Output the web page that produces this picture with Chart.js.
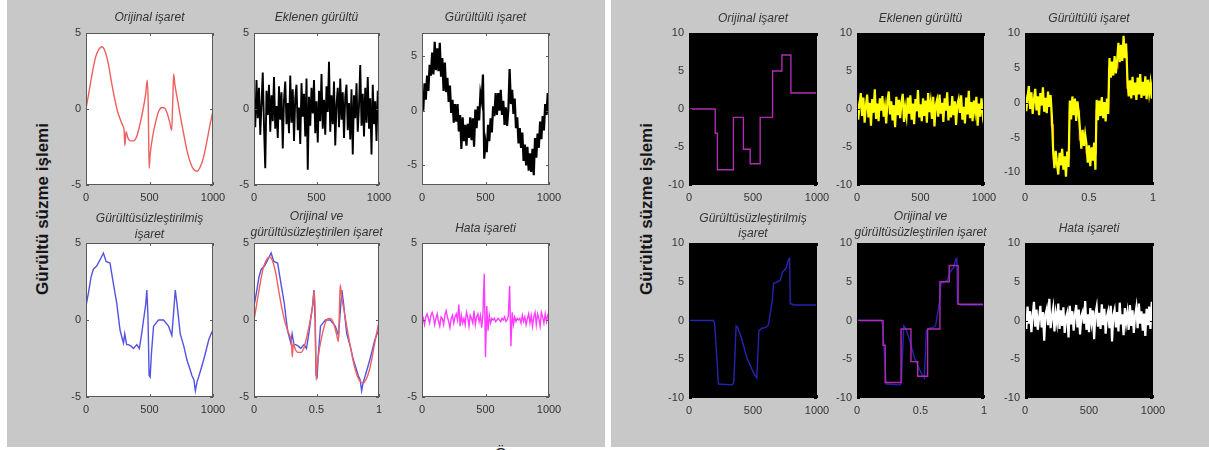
<!DOCTYPE html>
<html><head><meta charset="utf-8">
<script src="https://cdn.jsdelivr.net/npm/chart.js@4.4.1/dist/chart.umd.min.js"></script>
<style>
html,body{margin:0;padding:0;background:#fff;width:1209px;height:450px;overflow:hidden;position:relative;font-family:"Liberation Sans",Arial,sans-serif;}
.panel{position:absolute;background:#c8c8c8;}
canvas{position:absolute;}
.ylab{position:absolute;font-size:17px;font-weight:bold;color:#151515;white-space:nowrap;transform:translate(-50%,-50%) rotate(-90deg);}
</style></head><body>
<div class="panel" style="left:7px;top:0;width:598px;height:447px"></div>
<div class="panel" style="left:611px;top:0;width:598px;height:447px"></div>
<div class="ylab" style="left:43px;top:209px">Gürültü süzme işlemi</div>
<div class="ylab" style="left:647px;top:209px">Gürültü süzme işlemi</div>
<div style="position:absolute;left:495px;top:444px;font-size:15px;color:#222">Ö</div>
<script>
// ---------- tick labels ----------
const xTicksSamples = [0, 500, 1000];
const xLabelsSamples = ['0', '500', '1000'];
const xLabelsUnit = ['0', '0.5', '1'];
const yTicksLeft = [-5, 0, 5];
const yLabelsLeft = ['-5', '0', '5'];
const yTicksRight = [-10, -5, 0, 5, 10];
const yLabelsRight = ['-10', '-5', '0', '5', '10'];

// ---------- titles ----------
const titleOrig = ['Orijinal işaret'];
const titleNoise = ['Eklenen gürültü'];
const titleNoisy = ['Gürültülü işaret'];
const titleDen = ['Gürültüsüzleştirilmiş', 'işaret'];
const titleBoth = ['Orijinal ve', 'gürültüsüzleştirilen işaret'];
const titleErr = ['Hata işareti'];

// ---------- left panel: smooth signal ----------
const origX = [0,25,50,75,100,125,150,175,200,225,250,275,290,300,306,315,330,350,375,400,425,450,470,482,490,497,505,525,550,575,600,620,640,660,675,683,690,700,725,750,775,800,825,850,875,900,925,950,975,1000];
const origY = [0,1.2,2.4,3.4,3.9,4.1,3.8,3.0,1.8,0.7,-0.2,-0.8,-1.1,-1.4,-2.4,-1.5,-1.9,-2.1,-2.1,-1.8,-1.0,0.0,1.0,1.9,0.3,-3.9,-3.0,-1.8,-0.8,-0.1,0.1,0.05,-0.3,-0.9,-1.4,0.5,2.3,1.6,0.4,-0.8,-1.9,-2.9,-3.6,-4.0,-4.1,-3.8,-3.2,-2.2,-1.1,-0.1];

const denLX = [0,20,40,58,84,110,137,158,189,215,242,268,285,295,305,320,334,355,374,400,420,440,453,470,479,488,497,505,515,532,571,610,650,676,690,703,716,742,770,795,815,834,850,861,875,887,905,926,945,966,985,1000];
const denLY = [0.9,1.8,2.8,3.3,3.5,3.9,4.35,3.8,3.7,2.4,1.1,-0.65,-1.2,-1.5,-0.9,-1.6,-1.6,-1.7,-1.85,-1.6,-1.85,-0.8,0.0,1.0,1.95,0.2,-3.6,-3.7,-2.2,-0.4,0.0,0.0,-0.4,-1.0,0.5,1.95,1.1,-0.9,-1.7,-2.6,-3.1,-3.6,-3.9,-4.6,-4.0,-3.7,-3.2,-2.6,-2.0,-1.3,-0.9,-0.65];

const noiseL = [0.8,-1.2,1.9,-0.6,1.4,-1.7,0.3,2.4,-1.1,-3.9,
1.2,-0.4,1.6,-1.5,0.9,-0.8,2.1,-1.3,0.2,-1.9,
1.5,-0.7,1.1,-2.6,0.6,1.8,-1.0,0.4,-1.6,2.2,
-0.9,1.3,-2.1,0.7,1.6,-1.4,0.1,-2.3,1.7,-0.5,
1.0,-1.8,2.0,-4.0,0.8,-1.1,1.4,-0.3,1.9,-1.6,
0.5,-2.2,1.2,-0.8,2.3,-1.3,0.6,-1.7,1.5,-0.2,
3.1,-1.5,0.9,-1.0,1.8,-2.4,0.3,1.4,-1.2,2.0,
-0.7,1.1,-1.9,0.8,1.6,-1.4,0.4,-2.0,1.3,-3.0,
0.9,-0.6,1.7,-1.5,0.2,2.9,-1.1,1.0,-1.8,1.4,
-0.9,2.1,-1.3,0.7,-3.0,1.6,-1.0,0.5,-2.1,1.2,0.3];

const noisyL = [1.2,0.0,2.5,1.0,3.2,1.8,4.2,3.2,5.3,3.3,
6.3,3.7,5.7,3.6,6.2,3.1,4.8,1.8,4.4,1.7,
3.0,0.8,2.3,-0.2,1.0,-1.1,0.6,-1.0,0.6,-1.9,
-0.4,-3.5,-0.6,-2.8,-1.3,-3.2,-1.2,-2.5,-0.6,-2.7,
-0.7,-3.3,0.1,-1.6,0.4,-0.9,1.6,0.9,3.3,-4.4,
-2.9,-3.8,-1.3,-2.8,-0.7,-2.0,0.4,-0.5,1.6,-0.4,
1.6,0.0,1.9,-0.4,0.9,-1.3,0.3,-1.4,0.1,3.8,
0.6,1.9,-0.3,1.1,-1.6,-0.6,-3.0,-1.6,-3.4,-2.0,
-4.6,-3.1,-5.0,-3.3,-5.5,-3.9,-5.6,-3.5,-5.9,-2.5,
-4.3,-2.1,-3.4,-1.0,-2.6,-0.5,-1.8,0.6,-0.4,1.6,-0.4];

const errL = [-0.2,0.1,-0.3,0.2,0.4,0.1,-0.2,0.3,0.5,0.2,
-0.3,0.1,0.4,-0.1,-0.4,0.2,0.1,-0.3,0.3,0.6,
0.2,-0.1,-0.5,0.1,0.3,-0.2,0.2,0.4,0.0,1.0,
-0.4,0.3,-0.2,0.1,-0.3,0.5,0.2,-0.4,0.3,0.1,
-0.2,0.6,-0.3,0.2,0.4,-0.1,0.3,-0.5,0.4,3.0,
-2.4,0.9,-0.7,0.3,-0.2,0.1,0.0,0.1,-0.1,0.0,
0.1,0.0,-0.1,0.1,0.0,0.2,-0.1,0.0,0.3,2.2,
-1.7,0.5,-0.3,0.2,-0.1,0.1,0.0,0.1,-0.2,0.3,
-0.1,0.2,-0.3,0.1,0.4,-0.2,0.3,-0.4,0.2,0.5,
-0.3,0.4,0.1,-0.4,0.5,0.2,-0.2,0.4,-0.1,0.3,0.1];

// ---------- right panel: block signal ----------
const stepX = [0,205,222,347,425,478,556,653,726,796,1000];
const stepY = [0,-3.2,-8,-1.1,-5.3,-7.2,-1.1,5.0,7.1,2.1,2.1];

const denRX = [0,190,200,230,340,350,368,380,410,452,500,517,530,546,570,600,620,650,661,680,713,730,760,778,786,791,820,1000];
const denRY = [0,0,-0.3,-8.2,-8.3,-7.9,-0.7,-0.9,-2.3,-4.8,-6.6,-7.1,-7.4,-1.3,-1.0,-0.9,-0.6,2.5,4.8,4.9,5.2,6.2,6.8,7.9,8.0,2.2,2.0,2.0];

const noiseR = [1.2,-1.4,0.6,2.1,-0.9,1.5,-1.8,0.4,1.9,-1.1,
0.8,-2.2,1.3,-0.5,2.6,-1.3,0.7,-1.6,1.4,-0.2,
1.7,-1.0,0.3,-1.9,1.1,2.3,-0.7,1.0,-1.5,0.5,
-2.4,1.6,-0.8,1.2,-1.2,0.9,2.0,-1.7,0.2,-1.0,
1.5,-0.6,1.8,-1.4,0.7,-2.0,1.3,-0.3,2.5,-1.1,
0.6,-1.6,1.4,-0.9,1.1,-1.8,2.1,-0.4,0.9,-1.3,
1.6,-2.3,0.5,1.2,-1.0,1.9,-0.6,0.8,-1.7,1.4,
-0.2,2.2,-1.5,0.4,-1.1,1.7,-0.8,1.0,-2.1,0.6,
1.3,-0.5,1.8,-1.4,0.3,-1.9,1.5,-0.7,2.4,-1.2,
0.9,-1.6,1.1,-0.3,1.6,-2.2,0.7,-1.0,1.4,-0.6,0.8];

const noisyR = [1.3,-1.2,0.8,2.4,-0.9,1.5,-1.6,0.5,2.0,-1.1,
0.9,-1.8,1.4,-0.4,2.2,-1.3,0.7,-1.5,1.6,-0.6,1.1,
-2.0,-7.0,
-9.4,-6.9,-8.8,-10.3,-7.2,-9.0,-6.6,-9.6,-7.7,-10.6,-7.0,-9.2,
0.3,-2.4,0.9,-1.8,0.6,-2.6,0.2,-1.5,
-4.0,-6.6,-3.9,-6.2,-4.5,
-5.9,-8.6,-6.1,-9.1,-6.4,-8.3,-5.7,-9.6,
0.4,-2.5,0.3,-1.9,0.8,-2.2,0.1,-2.7,0.6,-1.6,
6.4,3.6,5.9,3.9,6.7,4.2,6.1,
8.6,5.8,8.3,6.0,9.6,6.4,8.5,
3.5,0.9,3.2,0.6,3.7,1.1,2.9,0.4,3.6,1.2,4.1,0.7,3.0,1.0,3.8,0.5,3.3,1.3,2.8,0.6,3.4];

const errR = [0.9,-1.1,1.8,-0.4,1.2,-1.5,0.6,2.4,-0.8,1.4,
-1.2,0.3,1.9,-0.9,1.1,-2.6,0.8,1.5,-0.6,2.8,
-1.0,0.5,1.6,-1.4,0.9,-0.3,2.2,-1.1,1.3,-0.7,
1.7,-1.6,0.4,1.0,-2.2,1.9,-0.5,1.2,-1.3,0.7,
2.0,-0.9,1.4,-1.8,0.6,1.1,-0.4,2.5,-1.2,0.8,
-1.5,1.6,-0.2,1.3,-2.4,0.9,1.8,-0.8,1.0,-1.1,
2.1,-0.6,1.5,-1.7,0.5,1.2,-1.0,1.9,-2.7,0.7,
1.4,-0.9,1.1,-1.4,2.3,-0.5,0.8,-1.9,1.6,-0.3,
1.0,-1.2,2.0,-0.7,1.3,-1.6,0.6,1.7,-1.0,2.2,
-0.4,1.2,-1.3,0.9,-2.0,1.5,-0.6,1.8,-1.1,2.4,0.2];

// sample positions of the 101-sample series (n = 0, 10, ..., 1000)
const samplePos = noiseL.map((_, i) => i * 10);

// ---------- helpers ----------
const FF = "'Liberation Sans', Arial, sans-serif";
function pts(xs, ys) { return ys.map((y, i) => ({ x: xs[i], y: y })); }

function plot(o) {
  const AX = 36, TOP = 42, RP = 20, BX = 22;
  const w = o.r - o.l, h = o.b - o.t;
  const c = document.createElement('canvas');
  c.width = w + AX + RP; c.height = h + TOP + BX;
  c.style.left = (o.l - AX) + 'px'; c.style.top = (o.t - TOP) + 'px';
  c.style.width = c.width + 'px'; c.style.height = c.height + 'px';
  document.body.appendChild(c);
  const framePlugin = {
    id: 'frame',
    beforeDraw(ch) {
      const a = ch.chartArea, x = ch.ctx;
      x.save(); x.fillStyle = o.bg; x.fillRect(a.left, a.top, a.right - a.left, a.bottom - a.top); x.restore();
    },
    afterDraw(ch) {
      const a = ch.chartArea, x = ch.ctx;
      x.save();
      x.strokeStyle = o.frame; x.lineWidth = 1;
      x.strokeRect(a.left + 0.5, a.top + 0.5, a.right - a.left - 1, a.bottom - a.top - 1);
      x.beginPath();
      o.xt.forEach(v => {
        const px = Math.round(ch.scales.x.getPixelForValue(v)) + 0.5;
        x.moveTo(px, a.bottom); x.lineTo(px, a.bottom - 3);
        x.moveTo(px, a.top); x.lineTo(px, a.top + 3);
      });
      o.yt.forEach(v => {
        const py = Math.round(ch.scales.y.getPixelForValue(v)) + 0.5;
        x.moveTo(a.left, py); x.lineTo(a.left + 3, py);
        x.moveTo(a.right, py); x.lineTo(a.right - 3, py);
      });
      x.stroke();
      x.fillStyle = '#333';
      x.font = 'italic 12px ' + FF;
      x.textAlign = 'center'; x.textBaseline = 'middle';
      const cx = (a.left + a.right) / 2;
      o.title.forEach((s, i) => { x.fillText(s, cx, a.top - o.toff[i]); });
      x.restore();
    }
  };
  new Chart(c, {
    type: 'line',
    data: { datasets: o.ds.map(d => ({
      data: d.data, borderColor: d.color, borderWidth: d.w || 1.4, pointRadius: 0,
      tension: d.mono ? 0.4 : 0, cubicInterpolationMode: d.mono ? 'monotone' : 'default',
      stepped: d.stepped || false, fill: false })) },
    options: {
      responsive: false, animation: false, devicePixelRatio: 1, events: [],
      layout: { padding: { top: TOP, right: RP, left: 0, bottom: 0 } },
      plugins: { legend: { display: false }, tooltip: { enabled: false }, title: { display: false } },
      scales: {
        x: { type: 'linear', min: o.xmin, max: o.xmax,
          afterBuildTicks: s => { s.ticks = o.xt.map(v => ({ value: v })); },
          afterFit: s => { s.height = BX; },
          ticks: { callback: (v, i) => o.xl[i], font: { size: 11, family: FF }, color: '#333', padding: 6, maxRotation: 0, autoSkip: false },
          grid: { display: false, drawTicks: false }, border: { display: false } },
        y: { type: 'linear', min: o.ymin, max: o.ymax,
          afterBuildTicks: s => { s.ticks = o.yt.map(v => ({ value: v })); },
          afterFit: s => { s.width = AX; },
          ticks: { callback: (v, i) => o.yl[i], font: { size: 11, family: FF }, color: '#333', padding: 5, autoSkip: false },
          grid: { display: false, drawTicks: false }, border: { display: false } }
      }
    },
    plugins: [framePlugin]
  });
}

const L = { bg: '#ffffff', frame: '#5a5a5a', xmin: 0, xmax: 1000, xt: xTicksSamples, yt: yTicksLeft, yl: yLabelsLeft, ymin: -5, ymax: 5 };
const R = { bg: '#000000', frame: '#000000', xmin: 0, xmax: 1000, xt: xTicksSamples, yt: yTicksRight, yl: yLabelsRight, ymin: -10, ymax: 10 };
const cRed = '#ee5f5f', cBlueL = '#5353e2', cMag = '#ff3cff', cPur = '#b02cb0', cBlueR = '#2424b0', cYel = '#ffff00';

// left panel
plot(Object.assign({}, L, { l: 86, t: 33, r: 213, b: 185, xl: xLabelsSamples, title: titleOrig, toff: [15],
  ds: [{ data: pts(origX, origY), color: cRed, mono: true }] }));
plot(Object.assign({}, L, { l: 254, t: 33, r: 379, b: 185, xl: xLabelsSamples, title: titleNoise, toff: [15],
  ds: [{ data: pts(samplePos, noiseL), color: '#000000', w: 1.9 }] }));
plot(Object.assign({}, L, { l: 422, t: 33, r: 549, b: 185, xl: xLabelsSamples, title: titleNoisy, toff: [15], ymin: -6.8, ymax: 7.1,
  ds: [{ data: pts(samplePos, noisyL), color: '#000000', w: 2.2 }] }));
plot(Object.assign({}, L, { l: 86, t: 243, r: 213, b: 397, xl: xLabelsSamples, title: titleDen, toff: [24, 8],
  ds: [{ data: pts(denLX, denLY), color: cBlueL }] }));
plot(Object.assign({}, L, { l: 254, t: 243, r: 379, b: 397, xl: xLabelsUnit, title: titleBoth, toff: [26, 10],
  ds: [{ data: pts(origX, origY), color: cRed, mono: true }, { data: pts(denLX, denLY), color: cBlueL }] }));
plot(Object.assign({}, L, { l: 422, t: 243, r: 549, b: 397, xl: xLabelsSamples, title: titleErr, toff: [14],
  ds: [{ data: pts(samplePos, errL), color: cMag }] }));

// right panel
plot(Object.assign({}, R, { l: 689, t: 33, r: 817, b: 185, xl: xLabelsSamples, title: titleOrig, toff: [14],
  ds: [{ data: pts(stepX, stepY), color: cPur, stepped: true }] }));
plot(Object.assign({}, R, { l: 857, t: 33, r: 984, b: 185, xl: xLabelsSamples, title: titleNoise, toff: [14],
  ds: [{ data: pts(samplePos, noiseR), color: cYel, w: 2.2 }] }));
plot(Object.assign({}, R, { l: 1025, t: 33, r: 1153, b: 185, xl: xLabelsUnit, title: titleNoisy, toff: [14], ymin: -11.8, ymax: 10,
  ds: [{ data: pts(samplePos, noisyR), color: cYel, w: 2.2 }, { data: pts(stepX, stepY), color: '#e0503c', stepped: true }] }));
plot(Object.assign({}, R, { l: 689, t: 243, r: 817, b: 398, xl: xLabelsSamples, title: titleDen, toff: [24, 9],
  ds: [{ data: pts(denRX, denRY), color: cBlueR }] }));
plot(Object.assign({}, R, { l: 857, t: 243, r: 984, b: 398, xl: xLabelsUnit, title: titleBoth, toff: [26, 10],
  ds: [{ data: pts(stepX, stepY), color: cPur, stepped: true }, { data: pts(denRX, denRY), color: cBlueR }] }));
plot(Object.assign({}, R, { l: 1025, t: 243, r: 1153, b: 398, xl: xLabelsSamples, title: titleErr, toff: [14],
  ds: [{ data: pts(samplePos, errR), color: '#ffffff', w: 2.2 }] }));
</script>
</body></html>
